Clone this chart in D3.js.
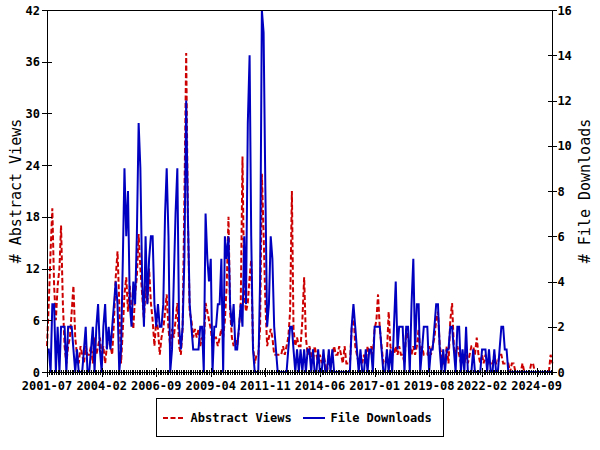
<!DOCTYPE html>
<html><head><meta charset="utf-8">
<script src="https://cdn.jsdelivr.net/npm/d3@7"></script>
<style>
body{margin:0;background:#fff}
svg{display:block}
text{font-family:"DejaVu Sans Mono",monospace}
</style>
</head><body>
<svg id="c" width="600" height="450"></svg>
<script>
// ---- data ----
const startMonth = "2001-07";
const tickLabels = ["2001-07","2004-02","2006-09","2009-04","2011-11","2014-06","2017-01","2019-08","2022-02","2024-09"];
const viewTicks = [0,6,12,18,24,30,36,42];
const downloadTicks = [0,2,4,6,8,10,12,14,16];
const seriesNames = ["Abstract Views","File Downloads"];
const abstractViews = [
 3,8,14,19,10,6,10,12,17,8,3,1,
 3,4,7,10,4,2,1,3,2,1,3,2,
 2,3,1,4,2,3,4,2,3,1,3,4,
 3,2,6,11,14,8,1,5,9,11,7,10,
 7,5,9,11,16,12,9,6,10,8,12,8,
 6,3,6,5,2,4,5,7,9,5,3,5,
 4,6,8,3,2,5,20,37,18,7,6,4,
 5,4,5,3,4,3,8,7,6,5,3,4,
 4,3,4,5,4,6,10,18,7,4,3,4,
 3,5,8,25,9,7,8,11,13,3,1,2,
 2,5,23,16,8,3,4,5,4,2,2,2,
 2,2,3,2,3,4,7,21,5,3,4,3,
 3,6,11,4,2,3,2,1,3,2,1,2,
 1,2,1,0,2,1,2,3,2,2,3,2,
 1,3,1,1,1,5,7,3,2,1,2,1,
 2,1,3,2,3,2,5,6,9,5,3,1,
 1,2,7,3,2,2,3,2,3,2,2,1,
 5,4,3,2,3,2,3,5,2,3,2,2,
 2,3,2,3,4,6,7,3,2,1,1,3,
 1,6,8,3,2,3,2,1,2,1,2,1,
 2,3,3,2,4,2,1,2,1,2,1,1,
 1,1,2,1,1,2,2,1,1,1,1,0,
 1,1,0,0,0,0,1,0,0,0,0,1,
 1,0,0,0,0,0,0,0,0,0,2,1
];
const fileDownloads = [
 1,1,0,3,3,0,2,0,2,2,2,0,
 2,2,2,1,0,1,0,0,0,1,2,0,
 0,1,2,0,2,3,1,0,2,3,1,2,
 1,2,3,4,3,0,1,5,9,6,8,3,
 2,4,3,6,11,9,4,2,6,3,5,6,
 6,3,2,3,2,2,3,7,9,6,0,1,
 4,7,9,2,1,2,5,12,7,3,2,1,
 1,1,1,2,2,0,7,5,4,5,0,2,
 2,3,3,5,0,6,5,6,3,2,3,1,
 1,2,3,2,6,3,11,14,6,1,0,0,
 0,4,16,15,8,2,3,6,5,2,1,0,
 0,0,0,0,0,1,2,2,1,0,1,0,
 1,0,1,0,1,1,0,1,0,0,1,0,
 0,1,0,0,1,0,1,0,0,0,0,0,
 0,0,0,0,0,2,3,2,1,0,1,0,
 0,1,0,1,1,0,2,2,2,2,1,0,
 0,1,0,1,0,2,4,1,2,2,2,0,
 2,2,0,3,5,1,3,3,0,1,2,2,
 2,0,1,1,2,3,3,1,0,1,0,1,
 1,2,2,1,0,2,2,0,1,0,2,0,
 0,0,1,0,0,0,0,1,1,1,0,1,
 0,0,1,0,0,1,2,2,1,1,0,0,
 0,0,0,0,0,0,0,0,0,0,0,0,
 0,0,0,0,0,0,0,0,0,0,0,0
];

// ---- chart ----
const parse = d3.timeParse("%Y-%m");
const start = parse(startMonth);
const months = abstractViews.map((_, i) => d3.timeMonth.offset(start, i));
const L = 47, R = 552.4, T = 10, B = 372;
const RED = "#cc0000", BLUE = "#0000c0";

const svg = d3.select("#c");
svg.append("rect").attr("width",600).attr("height",450).attr("fill","#fff");

const x = d3.scaleTime().domain([months[0], months[months.length-1]]).range([L, R]);
const yL = d3.scaleLinear().domain([0, 42]).range([B, T]);
const yR = d3.scaleLinear().domain([0, 16]).range([B, T]);

// lines
const lineV = d3.line().x((d,i)=>x(months[i])).y(d=>yL(d));
const lineD = d3.line().x((d,i)=>x(months[i])).y(d=>yR(d));
svg.append("path").datum(abstractViews).attr("d", lineV)
  .attr("fill","none").attr("stroke",RED).attr("stroke-width",2)
  .attr("stroke-dasharray","5,2.5");
svg.append("path").datum(fileDownloads).attr("d", lineD)
  .attr("fill","none").attr("stroke",BLUE).attr("stroke-width",2);

// frame
const g = svg.append("g").attr("shape-rendering","crispEdges").attr("stroke","#000");
g.append("line").attr("x1",L).attr("x2",R).attr("y1",T+0.5).attr("y2",T+0.5);
g.append("line").attr("x1",L).attr("x2",R+1).attr("y1",B+0.5).attr("y2",B+0.5);
g.append("line").attr("x1",L+0.5).attr("x2",L+0.5).attr("y1",T).attr("y2",B+1);
g.append("line").attr("x1",R+0.5).attr("x2",R+0.5).attr("y1",T).attr("y2",B+1);

// minor monthly ticks
months.forEach(m=>{
  const px = Math.round(x(m))+0.5;
  g.append("line").attr("x1",px).attr("x2",px).attr("y1",B-2).attr("y2",B+3);
});
// major x ticks + labels
const majors = tickLabels.map(parse);
majors.forEach((m,i)=>{
  const px = Math.round(x(m))+0.5;
  g.append("line").attr("x1",px).attr("x2",px).attr("y1",B-4).attr("y2",B+5);
  svg.append("text").attr("x",x(m)).attr("y",389.5).attr("text-anchor","middle")
    .attr("font-size",12).attr("font-weight","bold").text(tickLabels[i]);
});
// left ticks
viewTicks.forEach(v=>{
  const py = Math.round(yL(v))+0.5;
  g.append("line").attr("x1",L-5).attr("x2",L+5).attr("y1",py).attr("y2",py);
  svg.append("text").attr("x",L-7).attr("y",yL(v)+4.5).attr("text-anchor","end")
    .attr("font-size",12).attr("font-weight","bold").text(v);
});
// right ticks
downloadTicks.forEach(v=>{
  const py = Math.round(yR(v))+0.5;
  g.append("line").attr("x1",R-4).attr("x2",R+5).attr("y1",py).attr("y2",py);
  svg.append("text").attr("x",R+5).attr("y",yR(v)+4.5).attr("text-anchor","start")
    .attr("font-size",12).attr("font-weight","bold").text(v);
});
// axis titles
svg.append("text").attr("transform",`translate(21,${(T+B)/2}) rotate(-90)`)
  .attr("text-anchor","middle").attr("font-size",15).text("# " + seriesNames[0]);
svg.append("text").attr("transform",`translate(590,${(T+B)/2}) rotate(-90)`)
  .attr("text-anchor","middle").attr("font-size",15).text("# " + seriesNames[1]);

// legend
svg.append("rect").attr("x",156.5).attr("y",398.5).attr("width",287).attr("height",38)
  .attr("fill","none").attr("stroke","#000").attr("shape-rendering","crispEdges");
svg.append("line").attr("x1",163).attr("x2",183).attr("y1",418).attr("y2",418)
  .attr("stroke",RED).attr("stroke-width",2).attr("stroke-dasharray","5,2.5");
svg.append("text").attr("x",190.5).attr("y",422).attr("font-size",12).attr("font-weight","bold").text(seriesNames[0]);
svg.append("line").attr("x1",303).attr("x2",325).attr("y1",418).attr("y2",418)
  .attr("stroke",BLUE).attr("stroke-width",2);
svg.append("text").attr("x",330.5).attr("y",422).attr("font-size",12).attr("font-weight","bold").text(seriesNames[1]);
</script>
</body></html>
